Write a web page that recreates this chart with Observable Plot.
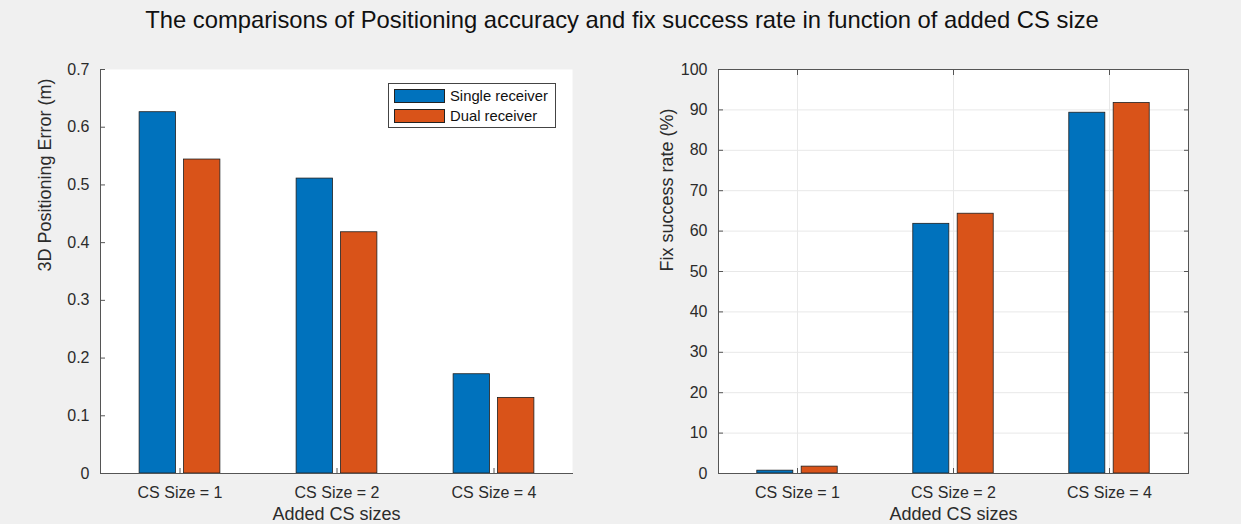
<!DOCTYPE html>
<html><head><meta charset="utf-8">
<script src="https://cdn.jsdelivr.net/npm/d3@7"></script>
<script src="https://cdn.jsdelivr.net/npm/@observablehq/plot@0.6"></script>
<style>
body{margin:0;background:#f0f0f0;}
#fig{position:relative;width:1241px;height:524px;background:#f0f0f0;font-family:"Liberation Sans",Arial,sans-serif;overflow:hidden}
#title{position:absolute;left:0;width:1244px;top:6px;text-align:center;font-size:23.8px;color:#111;white-space:nowrap}
.panel{position:absolute;top:40px}
.legend{position:absolute;left:388px;top:83px;width:166px;height:43px;border:1px solid #444;background:#fff;font-size:14.8px;color:#111}
.legend .row{position:absolute;left:5px;height:15px;display:flex;align-items:center}
.legend .sw{width:51px;height:14px;border:0.7px solid #222;margin-right:5px;box-sizing:border-box}
</style></head>
<body>
<div id="fig">
  <div id="title">The comparisons of Positioning accuracy and fix success rate in function of added CS size</div>
  <div class="panel" id="left" style="left:0px"></div>
  <div class="panel" id="right" style="left:620px"></div>
  <div class="legend" id="legend"></div>
</div>
<script>
const categories = ["CS Size = 1", "CS Size = 2", "CS Size = 4"];
const seriesNames = ["Single receiver", "Dual receiver"];
const errorSingle = [0.626, 0.511, 0.172];
const errorDual = [0.544, 0.418, 0.131];
const fixSingle = [0.7, 61.8, 89.3];
const fixDual = [1.7, 64.3, 91.7];
const errorTicks = [0, 0.1, 0.2, 0.3, 0.4, 0.5, 0.6, 0.7];
const fixTicks = [0, 10, 20, 30, 40, 50, 60, 70, 80, 90, 100];
const xLabel = "Added CS sizes";
const errorLabel = "3D Positioning Error (m)";
const fixLabel = "Fix success rate (%)";
const colors = ["#0072BD", "#D95319"];

const H = 484, MT = 29, MB = 51;
const axisColor = "#555", textColor = "#2b2b2b";

function panel({values, yTicks, yLabel, box, width, ml, mr, labelDx}) {
  const bw = (width - ml - mr) / categories.length;
  const barW = 36.7, gap = 7.7;
  const inset = (bw - barW) / 2;
  const off = (barW + gap) / 2;
  const marks = [Plot.frame({fill: "white", stroke: null})];
  if (box) {
    marks.push(Plot.gridY(yTicks, {stroke: "#e8e8e8", strokeOpacity: 1, strokeWidth: 1}));
    marks.push(Plot.gridX({stroke: "#e8e8e8", strokeOpacity: 1, strokeWidth: 1}));
  }
  values.forEach((vals, j) => {
    const rows = categories.map((c, i) => ({cat: c, value: vals[i], series: seriesNames[j]}));
    marks.push(Plot.barY(rows, {
      x: "cat", y: "value", fill: colors[j], stroke: "#1f1f1f", strokeWidth: 0.8,
      insetLeft: inset, insetRight: inset, dx: (j - 0.5) * 2 * off
    }));
  });
  marks.push(Plot.axisY({ticks: yTicks, tickSize: -5, tickPadding: 16, tickFormat: d => String(d),
    label: null, fontSize: 16, fill: textColor, stroke: axisColor}));
  marks.push(Plot.axisX({tickSize: -5, tickPadding: 18, label: null, fontSize: 16, fill: textColor, stroke: axisColor}));
  if (box) {
    marks.push(Plot.axisY({anchor: "right", ticks: yTicks, tickSize: -5, tickFormat: () => "", label: null, stroke: axisColor}));
    marks.push(Plot.axisX({anchor: "top", tickSize: -5, tickFormat: () => "", label: null, stroke: axisColor}));
    marks.push(Plot.frame({stroke: axisColor, strokeWidth: 1}));
  } else {
    marks.push(Plot.frame({anchor: "left", stroke: axisColor, strokeWidth: 1}));
    marks.push(Plot.frame({anchor: "bottom", stroke: axisColor, strokeWidth: 1}));
  }
  marks.push(Plot.text([yLabel], {text: d => d, frameAnchor: "left", rotate: -90, dx: -labelDx, fontSize: 18, fill: textColor}));
  marks.push(Plot.text([xLabel], {text: d => d, frameAnchor: "bottom", dy: 46, fontSize: 18, fill: textColor}));
  return Plot.plot({
    width, height: H, marginLeft: ml, marginRight: mr, marginTop: MT, marginBottom: MB,
    style: {background: "transparent", fontFamily: "'Liberation Sans', Arial, sans-serif", fontSize: "16px", overflow: "visible"},
    x: {type: "band", domain: categories, padding: 0},
    y: {domain: [yTicks[0], yTicks[yTicks.length - 1]]},
    marks
  });
}

document.getElementById("left").append(panel({
  values: [errorSingle, errorDual], yTicks: errorTicks, yLabel: errorLabel, box: false,
  width: 620, ml: 100, mr: 48, labelDx: 55
}));
document.getElementById("right").append(panel({
  values: [fixSingle, fixDual], yTicks: fixTicks, yLabel: fixLabel, box: true,
  width: 621, ml: 98, mr: 53, labelDx: 51
}));

const leg = document.getElementById("legend");
seriesNames.forEach((name, j) => {
  const row = document.createElement("div");
  row.className = "row";
  row.style.top = (4 + j * 20) + "px";
  const sw = document.createElement("div");
  sw.className = "sw";
  sw.style.background = colors[j];
  const t = document.createElement("span");
  t.textContent = name;
  row.append(sw, t);
  leg.append(row);
});
</script>
</body></html>
